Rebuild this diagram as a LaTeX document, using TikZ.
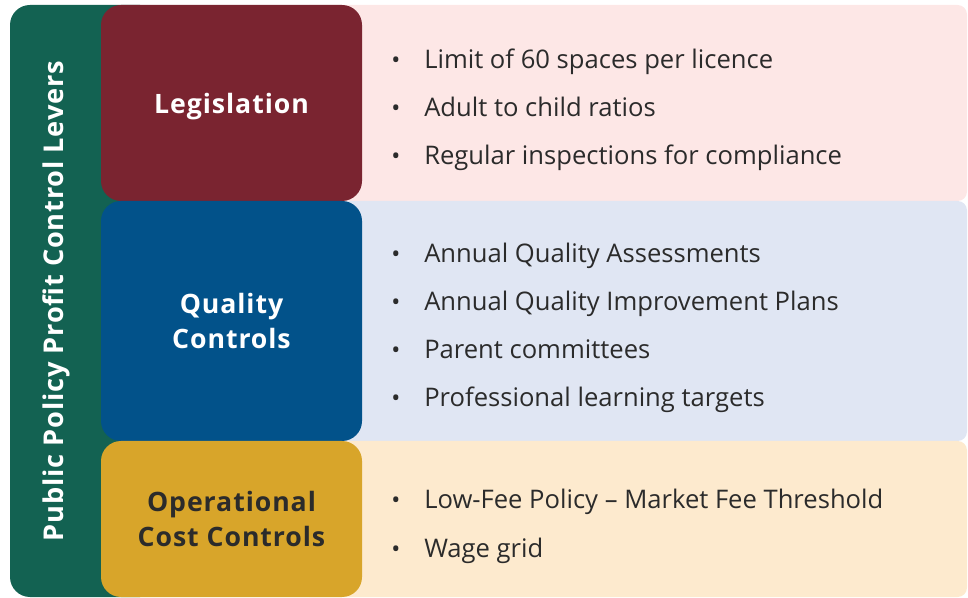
\documentclass[tikz,border=0pt]{standalone}
\usepackage{fontspec}
\setmainfont{Open Sans}
\usetikzlibrary{positioning}

\definecolor{leverGreen}{HTML}{136252}
\definecolor{legisRed}{HTML}{7A2430}
\definecolor{qualityBlue}{HTML}{02528A}
\definecolor{costGold}{HTML}{D8A52A}
\definecolor{legisPanel}{HTML}{FDE7E6}
\definecolor{qualityPanel}{HTML}{E0E6F3}
\definecolor{costPanel}{HTML}{FDEACE}
\definecolor{itemText}{HTML}{2B2B2B}

\tikzset{%
        every lever/.style={
            rounded corners=15pt,
            minimum width=195.75pt,
            inner sep=0pt,
            align=center,
            font=\fontsize{20}{26}\selectfont\bfseries\addfontfeature{LetterSpace=3.5}
        },
        every panel/.style={
            rounded corners=7pt,
            minimum width=500.25pt,
            inner sep=0pt
        },
        item/.style={
            anchor=base west,
            inner sep=0pt,
            text=itemText,
            font=\fontsize{19.2}{22}\selectfont
        },
        dot/.style={
            anchor=base,
            inner sep=0pt,
            text=itemText,
            font=\fontsize{18}{22}\selectfont
        },
    }

\begin{document}
\begin{tikzpicture}[x=0.75pt, y=-0.75pt]
        \useasboundingbox (0,0) rectangle (968,598);

        % side bar
        \fill [leverGreen, rounded corners=15pt] (10,5) rectangle (160,597);
        \node [rotate=90, text=white, inner sep=0pt,
            font=\fontsize{20.4}{24}\selectfont\bfseries\addfontfeature{LetterSpace=3}]
            (title) at (56,301) {Public Policy Profit Control Levers};

        % panels
        \foreach \c/\y/\h [count=\i] in {legisPanel/103/147, qualityPanel/321/180, costPanel/519/117}
        \node [every panel/.try, fill=\c, minimum height=\h pt] (panel-\i) at (633.5,\y) {};

        % levers
        \node [every lever/.try, fill=legisRed, text=white, minimum height=147pt, text depth=0pt]
            (legislation) at (231.5,103) {Legislation};
        \node [every lever/.try, fill=qualityBlue, text=white, minimum height=180pt]
            (quality) at (231.5,321) {Quality\\Controls};
        \node [every lever/.try, fill=costGold, text=itemText, minimum height=117pt]
            (cost) at (231.5,519) {Operational\\Cost Controls};

        % bullet items
        \foreach \l [count=\i] in {Limit of 60 spaces per licence, Adult to child ratios, Regular inspections for compliance}
        {
            \node [dot] (dot-1-\i) at (396,21+48*\i) {•};
            \node [item] (item-1-\i) at (424,21+48*\i) {\l};
        }

        \foreach \l [count=\i] in {Annual Quality Assessments, Annual Quality Improvement Plans, Parent committees, Professional learning targets}
        {
            \node [dot] (dot-2-\i) at (396,215+48*\i) {•};
            \node [item] (item-2-\i) at (424,215+48*\i) {\l};
        }

        \foreach \l [count=\i] in {Low-Fee Policy – Market Fee Threshold, Wage grid}
        {
            \node [dot] (dot-3-\i) at (396,461+48*\i) {•};
            \node [item] (item-3-\i) at (424,461+48*\i) {\l};
        }
    \end{tikzpicture}
\end{document}
